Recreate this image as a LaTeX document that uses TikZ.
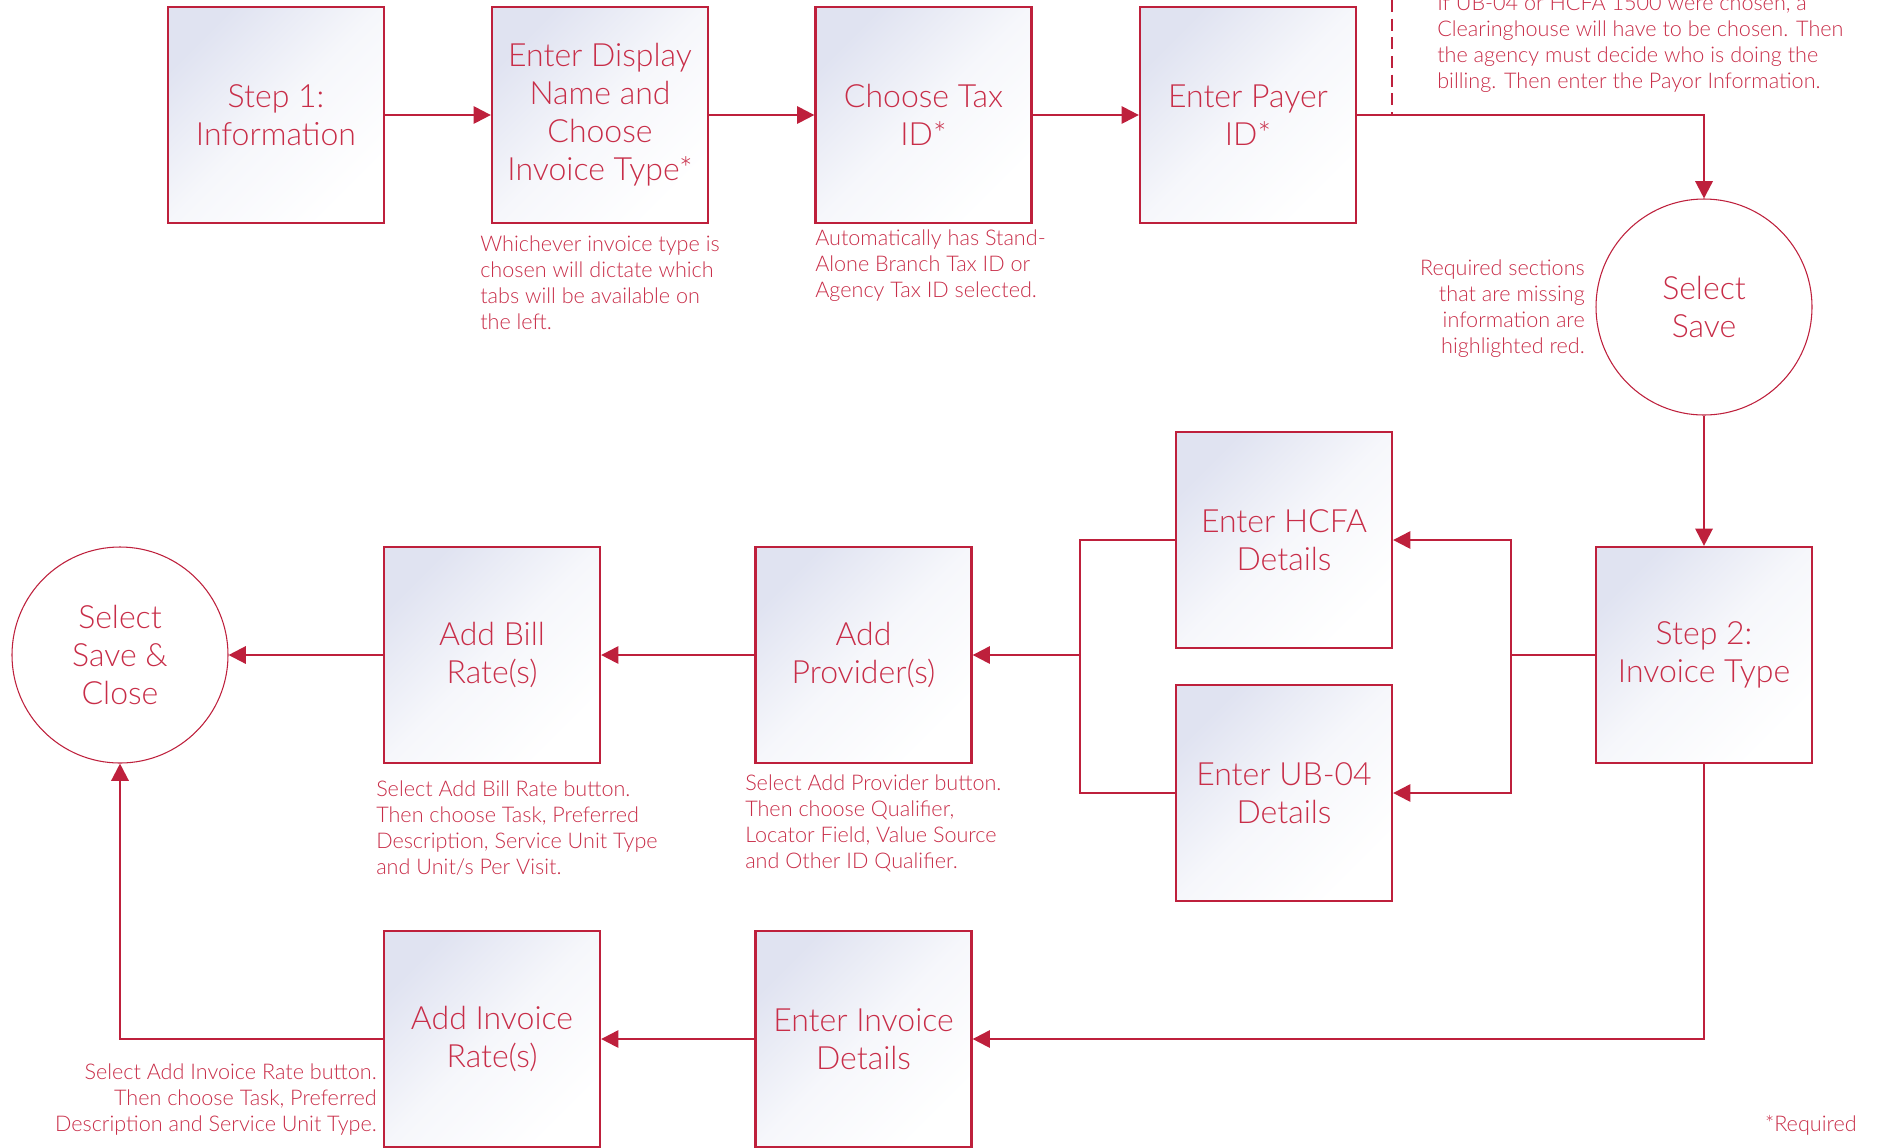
\documentclass[tikz,border=0pt]{standalone}
\usepackage{fontspec}
\IfFontExistsTF{Lato Light}{\setmainfont{Lato Light}}{\setmainfont{Liberation Sans}}
\usetikzlibrary{arrows.meta}
\definecolor{crim}{RGB}{190,32,60}
\definecolor{crimtxt}{RGB}{200,45,72}
\definecolor{lav}{RGB}{224,227,241}
\definecolor{lavmid}{RGB}{246,247,251}
\begin{document}
\begin{tikzpicture}[x=0.75pt,y=-0.75pt,
 box/.style={draw=crim, line width=1.7pt, minimum width=162pt, minimum height=162pt,
   top color=lav, bottom color=white, middle color=lavmid, shading angle=45, align=center, text=crimtxt,
   font=\fontsize{24}{28.5}\selectfont, inner sep=0pt},
 circ/.style={circle, draw=crim, line width=0.8pt, minimum size=162pt, fill=white,
   align=center, text=crimtxt, font=\fontsize{24}{28.5}\selectfont, inner sep=0pt},
 note/.style={text=crimtxt, font=\fontsize{16.2}{19.5}\selectfont, inner sep=0pt},
 conn/.style={draw=crim, line width=1.7pt},
 arr/.style={conn, -{Triangle[length=13pt,width=13pt]}},
 dashline/.style={draw=crim, line width=1.5pt, dash pattern=on 9pt off 5pt}
]
\useasboundingbox (0,0) rectangle (1883,1147);
% row 1
\node[box] (b1) at (276,115) {Step 1:\\Information};
\node[box] (b2) at (600,115) {Enter Display\\Name and\\Choose\\Invoice Type*};
\node[box] (b3) at (923.5,115) {Choose Tax\\ID*};
\node[box] (b4) at (1248,115) {Enter Payer\\ID*};
\node[circ] (ss) at (1704,307) {Select\\Save};
% row 2
\node[box] (s2) at (1704,655) {Step 2:\\Invoice Type};
\node[box] (hcfa) at (1284,540) {Enter HCFA\\Details};
\node[box] (ub) at (1284,793) {Enter UB-04\\Details};
\node[box] (ap) at (863.5,655) {Add\\Provider(s)};
\node[box] (abr) at (492,655) {Add Bill\\Rate(s)};
\node[circ] (close) at (120,655) {Select\\Save \&\\Close};
% row 3
\node[box] (eid) at (863.5,1039) {Enter Invoice\\Details};
\node[box] (air) at (492,1039) {Add Invoice\\Rate(s)};
% notes
\node[note, anchor=north west, align=left] (n2) at (480,236) {Whichever invoice type is\\chosen will dictate which\\tabs will be available on\\the left.};
\node[note, anchor=north west, align=left] (n3) at (815,230) {Automatically has Stand-\\Alone Branch Tax ID or\\Agency Tax ID selected.};
\node[note, anchor=north west, align=left] (n4) at (1437,-5.5) {If UB-04 or HCFA 1500 were chosen, a\\Clearinghouse will have to be chosen. Then\\the agency must decide who is doing the\\billing. Then enter the Payor Information.};
\node[note, anchor=north east, align=right] (nss) at (1585,260) {Required sections\\that are missing\\information are\\highlighted red.};
\node[note, anchor=north west, align=left] (nabr) at (376,781) {Select Add Bill Rate button.\\Then choose Task, Preferred\\Description, Service Unit Type\\and Unit/s Per Visit.};
\node[note, anchor=north west, align=left] (nap) at (745,775) {Select Add Provider button.\\Then choose Qualifier,\\Locator Field, Value Source\\and Other ID Qualifier.};
\node[note, anchor=north east, align=right] (nair) at (377,1063) {Select Add Invoice Rate button.\\Then choose Task, Preferred\\Description and Service Unit Type.};
\node[note, anchor=north east] (req) at (1857,1115) {*Required};
% connectors
\draw[arr] (b1) -- (b2);
\draw[arr] (b2) -- (b3);
\draw[arr] (b3) -- (b4);
\coordinate (dtop) at (1392,0);
\draw[dashline] (dtop) -- (dtop |- b4.east);
\draw[arr] (b4.east) -| (ss.north);
\draw[arr] (ss.south) -- (s2.north);
\coordinate (jr) at (1511,655);
\coordinate (jl) at (1080,655);
\draw[conn] (s2.west) -- (jr);
\draw[arr] (jr) |- (hcfa.east);
\draw[arr] (jr) |- (ub.east);
\draw[conn] (hcfa.west) -| (jl);
\draw[conn] (ub.west) -| (jl);
\draw[arr] (jl) -- (ap.east);
\draw[arr] (ap) -- (abr);
\draw[arr] (abr) -- (close);
\draw[arr] (s2.south) |- (eid.east);
\draw[arr] (eid) -- (air);
\draw[arr] (air.west) -| (close.south);
\end{tikzpicture}
\end{document}
